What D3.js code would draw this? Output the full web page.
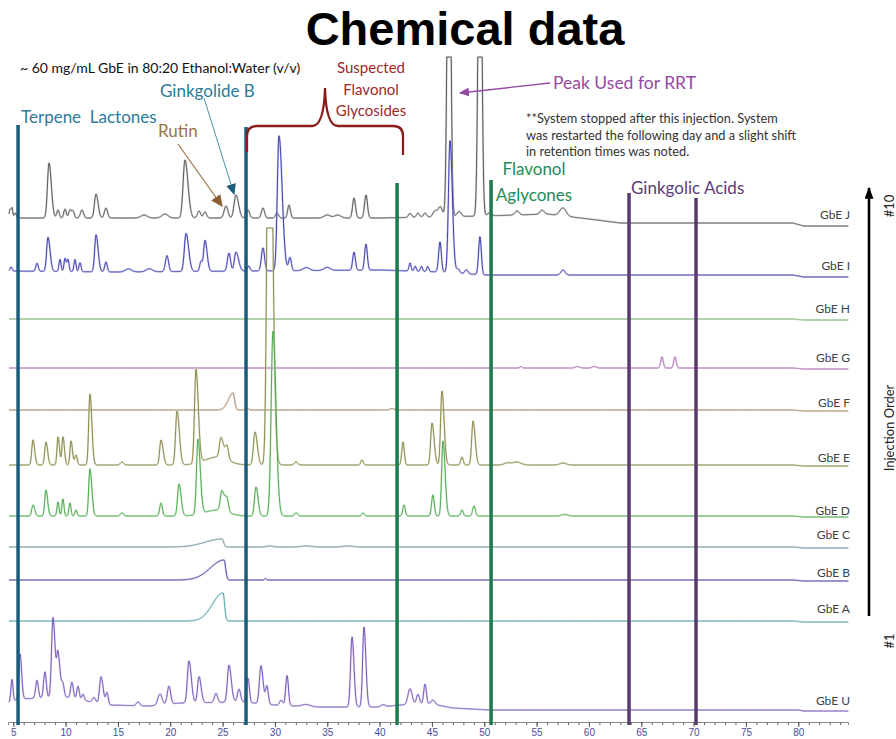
<!DOCTYPE html>
<html>
<head>
<meta charset="utf-8">
<script src="https://cdn.jsdelivr.net/npm/d3@7"></script>
<style>
  body { margin: 0; background: #fff; }
  svg { display: block; }
  text { font-family: Lato, "Open Sans", sans-serif; }
</style>
</head>
<body>
<script>
// ---- data ----
// peaks: [retention time (min), height (mAU), width left, width right]
const peaksJ = [[4.69,8,0.08],[4.88,10,0.08],[5.2,5,0.1],[8.42,55,0.15,0.22],[9.28,8,0.12],[9.95,9,0.12],
  [10.42,8,0.12],[10.71,7,0.12],[11.57,8,0.15],[12.91,24,0.15,0.2],[13.86,10,0.15],[17.5,3,0.3],[19.5,4,0.3],
  [21.41,58,0.18,0.28],[22.75,7,0.15],[23.32,6,0.15],[25.33,12,0.18],[26.28,23,0.18,0.25],[27.43,8,0.15],
  [28.86,10,0.15],[30.2,5,0.15],[31.35,13,0.13],[35,3,0.3],[36,3,0.3],[37.56,20,0.14],[38.7,23,0.14],
  [42.91,4,0.15],[43.67,4,0.15],[44.34,4,0.15],[45.3,6,0.2],[45.8,10,0.2],[46.63,400,0.16],[47.6,5,0.2],
  [49.59,400,0.16],[50.5,3,0.2],[53.13,4,0.2],[55.52,4,0.2],[57.52,8,0.3]];
const peaksI = [[4.8,4,0.1],[7.27,8,0.12],[8.32,34,0.13,0.2],[9.47,12,0.1],[9.95,13,0.1],[10.23,12,0.1],
  [10.9,12,0.1],[11.38,9,0.1],[12.91,37,0.13,0.2],[13.86,10,0.12],[16,3,0.3],[18,3,0.3],[19.69,16,0.15],
  [21.51,38,0.16,0.25],[22.94,10,0.12],[23.32,31,0.13,0.2],[25.61,18,0.15],[26.28,19,0.15,0.25],[27.5,5,0.12],
  [28.86,23,0.15],[30.39,135,0.16,0.3],[31.44,13,0.13],[33,3,0.3],[35,3,0.3],[37.56,18,0.13],[38.7,26,0.13],
  [42.91,8,0.1],[43.4,5,0.1],[44,5,0.1],[44.6,5,0.1],[45.77,30,0.13],[46.73,132,0.15,0.22],[47.5,4,0.15],
  [48.3,4,0.15],[49.59,38,0.13],[57.52,5,0.2]];
const peaksH = [];
const peaksG = [[53.5,1.5,0.1],[58.9,1.5,0.2],[60.5,1.5,0.2],[66.98,11,0.12],[68.22,11,0.12]];
const peaksF = [[26.0,17,0.45,0.15],[27.3,2,0.15],[41.2,1.5,0.2]];
const peaksE = [[6.89,25,0.12,0.16],[8.13,23,0.12,0.16],[9.28,28,0.1,0.14],[9.75,28,0.1,0.14],[10.52,24,0.1,0.14],
  [11.0,10,0.12],[12.33,71,0.12,0.18],[15.39,3,0.15],[19.12,25,0.13,0.2],[20.65,54,0.14,0.22],[22.46,94,0.14,0.22],
  [24.5,8,1.2,1.0],[24.85,20,0.15,0.25],[25.42,13,0.15],[28.1,33,0.15,0.22],[29.44,500,0.18,0.3],[32.02,3,0.15],
  [38.32,5,0.12],[42.24,23,0.12],[45.01,42,0.13,0.2],[45.96,74,0.13,0.2],[47.87,8,0.12],[48.93,44,0.13,0.2],
  [52.2,2,0.3],[53.1,3,0.4],[57.52,2,0.3]];
const peaksD = [[6.89,11,0.12,0.16],[8.13,26,0.12,0.16],[9.28,14,0.1],[9.75,17,0.1],[10.42,13,0.1],[11.0,6,0.1],
  [12.33,47,0.12,0.18],[15.39,3,0.15],[19.12,13,0.13],[20.84,32,0.14,0.2],[22.65,75,0.14,0.22],[24.5,6,1.2,1.0],
  [24.94,20,0.15,0.25],[25.42,12,0.15],[28.19,29,0.14,0.2],[29.82,185,0.18,0.28],[32.02,3,0.15],[38.42,3,0.12],
  [42.33,11,0.12],[45.1,21,0.13],[46.06,75,0.13,0.2],[47.87,6,0.12],[49.02,10,0.13],[57.7,1.5,0.3]];
const peaksC = [[24.95,8,1.6,0.15],[29.5,1,0.3],[33,1,0.5],[37,1,0.5]];
const peaksB = [[25.14,20,1.3,0.15],[29.1,1.5,0.08]];
const peaksA = [[25.04,28,1.0,0.15]];
const peaksU = [[4.88,22,0.1],[5.65,45,0.1,0.15],[7.27,18,0.13],[8.03,26,0.13],[8.8,80,0.14,0.2],[9.28,42,0.12,0.2],
  [9.75,12,0.12],[10.61,16,0.13],[11.19,13,0.12],[11.67,6,0.12],[12.72,5,0.15],[13.39,27,0.14,0.2],[13.96,12,0.12],
  [16.92,4,0.15],[19.02,11,0.2],[19.88,18,0.16],[21.79,42,0.15,0.22],[22.75,26,0.14,0.2],[24.37,9,0.15],
  [25.61,37,0.15,0.22],[26.57,13,0.15],[27.43,24,0.13],[28.67,38,0.15,0.2],[29.24,18,0.13],[30.6,5,0.15],
  [31.16,30,0.13],[33,2,0.4],[37.37,70,0.14,0.18],[38.51,80,0.13,0.18],[40.33,2,0.2],[42.91,16,0.2],
  [43.67,10,0.15],[44.34,20,0.13],[45.1,4,0.2]];

// baseline drift: [time, mAU]
const driftJ = [[4.5,8],[40,8],[50,10],[56,12],[60,7],[63,3],[79.5,3],[80.5,0],[85,0]];
const driftI = [[4.5,6],[15,5],[40,7],[46,5],[50,2],[79.5,2],[80.5,0],[85,0]];
const driftFlat = [[4.5,1],[79.5,1],[80.5,0],[85,0]];
const driftU = [[4.5,8],[5.5,12],[10,14],[12,10],[14,6],[18,5],[21,8],[27,9],[30,6],[34,4],[40,4],[42,6],
  [45,7],[47,3],[50.5,1],[80,1],[80.5,0],[85,0]];

const traceNames = ["GbE J","GbE I","GbE H","GbE G","GbE F","GbE E","GbE D","GbE C","GbE B","GbE A","GbE U"];
const tracePeaks = [peaksJ, peaksI, peaksH, peaksG, peaksF, peaksE, peaksD, peaksC, peaksB, peaksA, peaksU];
const traceDrift = [driftJ, driftI, driftFlat, driftFlat, driftFlat, driftFlat, driftFlat, driftFlat, driftFlat, driftFlat, driftU];
const traceSat = [169, null, null, null, null, 238, null, null, null, null, null];

const majorTicks = d3.range(5, 85, 5);
const minorTicks = d3.range(5, 85, 1);
// region markers (retention time)
const markerTimes = [5.46, 27.24, 41.67, 50.65, 63.83, 70.23];

// ---- layout & style ----
const W = 896, H = 739;
const rowBase = [226, 277, 320, 369, 411, 466, 517, 548, 581, 622, 711];
const labelY = [214, 265, 308, 357, 402, 457, 510, 534, 572, 608, 700];
const lineCol = ["#4a4a4a","#2c2ca0","#78b070","#a868b0","#a88a6a","#7e7e3e","#3f9f3f","#6e8e96","#3a3a9a","#4e9aa6","#6a48b0"];
const haloCol = ["#bcbcbc","#b4b4ee","#c8e0c0","#dcc0e0","#dccab8","#d4d4b0","#b8e4b8","#c0d4d8","#b8b8e4","#b8dce0","#cec0ec"];
const markerCol = ["#1b5c7a","#1b5c7a","#1a7a4c","#1a7a4c","#5a3a6e","#5a3a6e"];
const markerTop = [125, 127, 183, 180, 193, 198];
const axisY = 722;

const svg = d3.select("body").append("svg").attr("width", W).attr("height", H);

const x = d3.scaleLinear().domain([4.5, 84.75]).range([8, 848]);
const amp = d3.scaleLinear().domain([0, 100]).range([0, 100]);

function makeSignal(peaks, drift, sat) {
  const base = d3.scaleLinear().domain(drift.map(d => d[0])).range(drift.map(d => d[1])).clamp(true);
  return function (t) {
    let v = base(t);
    for (const p of peaks) {
      const w = t < p[0] ? p[2] : (p[3] || p[2]);
      const z = (t - p[0]) / w;
      if (Math.abs(z) < 7) v += p[1] * Math.exp(-0.5 * z * z);
    }
    return sat ? Math.min(v, sat) : v;
  };
}

const times = d3.range(4.6, 84.8, 0.02);
const gTraces = svg.append("g");

traceNames.forEach(function (name, i) {
  const f = makeSignal(tracePeaks[i], traceDrift[i], traceSat[i]);
  const pts = times.map(t => [t, f(t)]);
  const line = d3.line()
    .x(d => x(d[0]))
    .y(d => rowBase[i] - amp(d[1]));
  gTraces.append("path").attr("d", line(pts))
    .attr("fill", "none").attr("stroke", haloCol[i]).attr("stroke-width", 2)
    .attr("stroke-linejoin", "round").attr("opacity", 0.6);
  gTraces.append("path").attr("d", line(pts))
    .attr("fill", "none").attr("stroke", lineCol[i]).attr("stroke-width", 0.9);
  svg.append("text").attr("x", 850).attr("y", labelY[i])
    .attr("text-anchor", "end").attr("dominant-baseline", "central")
    .attr("font-size", 12).attr("fill", "#404040").text(name);
});

// axis
const minorAxis = d3.axisBottom(x).tickValues(minorTicks).tickSize(3).tickFormat("");
const majorAxis = d3.axisBottom(x).tickValues(majorTicks).tickSize(5).tickPadding(2);
svg.append("g").attr("transform", `translate(0,${axisY})`).call(minorAxis)
  .call(g => g.select(".domain").attr("stroke", "#8a8a8a"))
  .call(g => g.selectAll(".tick line").attr("stroke", "#666"));
svg.append("g").attr("transform", `translate(0,${axisY})`).call(majorAxis)
  .call(g => g.select(".domain").remove())
  .call(g => g.selectAll(".tick line").attr("stroke", "#555"))
  .call(g => g.selectAll(".tick text").attr("fill", "#4b4b9b")
    .attr("font-size", 10).style("font-family", "'Liberation Sans Narrow', 'Liberation Sans', sans-serif"));

// region bars
markerTimes.forEach(function (t, i) {
  svg.append("line").attr("x1", x(t)).attr("x2", x(t))
    .attr("y1", markerTop[i]).attr("y2", axisY + 3)
    .attr("stroke", markerCol[i]).attr("stroke-width", 3.5);
});

// arrow markers
const defs = svg.append("defs");
function arrowHead(id, color, w, h) {
  defs.append("marker").attr("id", id).attr("viewBox", "0 0 10 10")
    .attr("refX", 9).attr("refY", 5).attr("markerWidth", w).attr("markerHeight", h)
    .attr("markerUnits", "userSpaceOnUse").attr("orient", "auto")
    .attr("preserveAspectRatio", "none")
    .append("path").attr("d", "M0,0 L10,5 L0,10 Z").attr("fill", color);
}
arrowHead("ah-brown", "#8a6030", 12, 11);
arrowHead("ah-teal", "#1b5c7a", 11, 10);
arrowHead("ah-purple", "#934ba3", 10, 9);
arrowHead("ah-black", "#000", 12, 9);

function arrow(x1, y1, x2, y2, color, w, id) {
  svg.append("line").attr("x1", x1).attr("y1", y1).attr("x2", x2).attr("y2", y2)
    .attr("stroke", color).attr("stroke-width", w).attr("marker-end", `url(#${id})`);
}
arrow(178, 144, 222, 206, "#9b7542", 1.2, "ah-brown");
arrow(204, 98, 234, 194, "#4a92ad", 1, "ah-teal");
arrow(550, 83, 460, 93, "#934ba3", 1.4, "ah-purple");
arrow(869, 616, 869, 188, "#000", 2.6, "ah-black");

// brace over suspected flavonol glycosides
svg.append("path")
  .attr("d", "M247,152 L247,136 Q247,126 257,126 L312,126 Q324,126 325,88 Q326,126 338,126 L393,126 Q403,126 403,136 L403,155")
  .attr("fill", "none").attr("stroke", "#8b1c1c").attr("stroke-width", 2.3);

// texts
function label(txt, xx, yy, opts) {
  const o = Object.assign({ size: 17, color: "#000", anchor: "start", weight: "normal" }, opts || {});
  return svg.append("text").attr("x", xx).attr("y", yy)
    .attr("dominant-baseline", "central").attr("text-anchor", o.anchor)
    .attr("font-size", o.size).attr("font-weight", o.weight).attr("fill", o.color).text(txt);
}
svg.append("text").attr("x", 465).attr("y", 45).attr("text-anchor", "middle")
  .attr("font-size", 47).attr("font-weight", "bold")
  .style("font-family", "'Liberation Sans', Arial, sans-serif").text("Chemical data");
label("~ 60 mg/mL GbE in 80:20 Ethanol:Water (v/v)", 20, 67, { size: 14, color: "#111" });
["Suspected", "Flavonol", "Glycosides"].forEach((s, i) =>
  label(s, 371, 67 + i * 21.5, { size: 15, color: "#9a2a2e", anchor: "middle" }));
label("Ginkgolide B", 160, 90, { color: "#2b7b99" });
label("Terpene  Lactones", 21, 116, { color: "#2b7b99" }).style("white-space", "pre");
label("Rutin", 158, 130, { color: "#9b7542" });
label("Peak Used for RRT", 553, 82, { size: 17.5, color: "#934ba3" });
["**System stopped after this injection. System",
 "was restarted the following day and a slight shift",
 "in retention times was noted."].forEach((s, i) =>
  label(s, 526, 118 + i * 16.5, { size: 12.8, color: "#333" }));
label("Flavonol", 534, 168, { color: "#1f8a5b", anchor: "middle" });
label("Aglycones", 534, 194, { color: "#1f8a5b", anchor: "middle" });
label("Ginkgolic Acids", 631, 187, { color: "#5d3b7a" });

// injection order
function vlabel(txt, yy) {
  svg.append("text").attr("transform", `translate(889,${yy}) rotate(-90)`)
    .attr("text-anchor", "middle").attr("dominant-baseline", "central")
    .attr("font-size", 13).attr("fill", "#222").text(txt);
}
vlabel("#10", 206);
vlabel("Injection Order", 428);
vlabel("#1", 641);
</script>
</body>
</html>
